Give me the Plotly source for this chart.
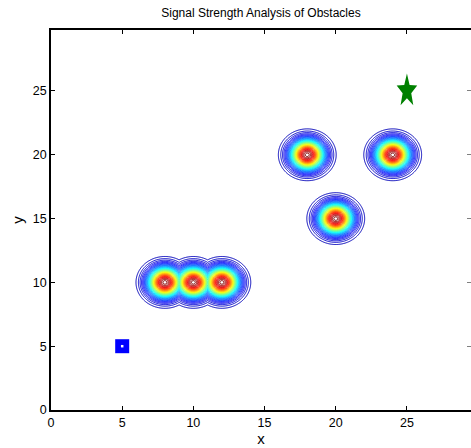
import numpy as np
import plotly.graph_objects as go

# ---- data ----
obstacle_x = [8, 10, 12, 18, 24, 20]
obstacle_y = [10, 10, 10, 20, 20, 15]
signal_sigma = 0.8          # spread of each obstacle's signal
source_x, source_y = [5], [5]
target_x, target_y = [25], [25]
x_ticks = [0, 5, 10, 15, 20, 25]
y_ticks = [0, 5, 10, 15, 20, 25]
title_text = "Signal Strength Analysis of Obstacles"

# ---- signal field (max of obstacle contributions) ----
gx = np.arange(0, 30.01, 0.05)
gy = np.arange(0, 30.01, 0.05)
GX, GY = np.meshgrid(gx, gy)
Z = np.zeros_like(GX)
for ox, oy in zip(obstacle_x, obstacle_y):
    Z = np.maximum(Z, np.exp(-((GX - ox) ** 2 + (GY - oy) ** 2) / (2 * signal_sigma ** 2)))

jet = [
    [0.0, "rgb(0,0,185)"],
    [0.125, "rgb(0,0,255)"],
    [0.375, "rgb(0,255,255)"],
    [0.625, "rgb(255,255,0)"],
    [0.875, "rgb(255,0,0)"],
    [1.0, "rgb(128,0,0)"],
]

zlo, zhi = 0.04, 0.985
fig = go.Figure()
fig.add_trace(go.Contour(
    x=gx, y=gy, z=Z,
    colorscale=jet, zmin=zlo, zmax=zhi,
    contours=dict(coloring="lines", start=zlo, end=zhi, size=0.027),
    line=dict(width=1),
    showscale=False, hoverinfo="skip",
))
fig.add_trace(go.Scatter(
    x=source_x, y=source_y, mode="markers",
    marker=dict(symbol="square", size=14, color="rgb(0,0,255)", line=dict(width=0)),
    showlegend=False,
))
fig.add_trace(go.Scatter(
    x=source_x, y=source_y, mode="markers",
    marker=dict(symbol="square", size=2.5, color="white", line=dict(width=0)),
    showlegend=False,
))
# right-side ticks (no line)
fig.add_trace(go.Scatter(x=[None], y=[None], yaxis="y2", showlegend=False))

# green pentagram marker at the target, drawn as a pixel-sized shape
ang = np.pi / 2 + np.arange(10) * np.pi / 5
rad = np.where(np.arange(10) % 2 == 0, 1.0, 0.42)
sx = 10.8 * rad * np.cos(ang)
sy = 17.5 * rad * np.sin(ang)
path = "M " + " L ".join(f"{a:.2f},{b:.2f}" for a, b in zip(sx, sy)) + " Z"
fig.add_shape(type="path", path=path, xsizemode="pixel", ysizemode="pixel",
              xanchor=target_x[0], yanchor=target_y[0], xref="x", yref="y",
              fillcolor="rgb(0,128,0)", line=dict(width=0))

font = dict(family="Liberation Sans, Arial, sans-serif", size=12.5, color="black")
fig.update_layout(
    template=None,
    width=471, height=448,
    margin=dict(l=51, r=0, t=30, b=38, autoexpand=False),
    paper_bgcolor="white", plot_bgcolor="white",
    font=font,
    showlegend=False,
    title=dict(text=title_text, x=0.5, xref="paper", xanchor="center",
               y=1, yref="container", yanchor="top", pad=dict(t=9),
               font=dict(family="Liberation Sans, Arial, sans-serif", size=12, color="black")),
    xaxis=dict(range=[0, 29.5], tickvals=x_ticks, ticks="inside", ticklen=4,
               tickcolor="black", showline=True, linecolor="black", linewidth=1.5,
               mirror="ticks", showgrid=False, zeroline=False, automargin=False,
               title=dict(text="x", standoff=4), tickfont=font),
    yaxis=dict(range=[0, 29.78], tickvals=y_ticks, ticks="inside", ticklen=4,
               tickcolor="black", showline=True, linecolor="black", linewidth=1.5,
               mirror=False, showgrid=False, zeroline=False, automargin=False,
               title=dict(text="y", standoff=6), tickfont=font),
    yaxis2=dict(overlaying="y", side="right", matches="y", range=[0, 29.78],
                tickvals=y_ticks, ticks="inside", ticklen=4, tickcolor="gray",
                showticklabels=False, showline=False, showgrid=False, zeroline=False,
                automargin=False),
)
fig.write_html("out.html", config={"displayModeBar": False},
               post_script="document.body.style.margin='0';document.body.style.overflow='hidden';")
